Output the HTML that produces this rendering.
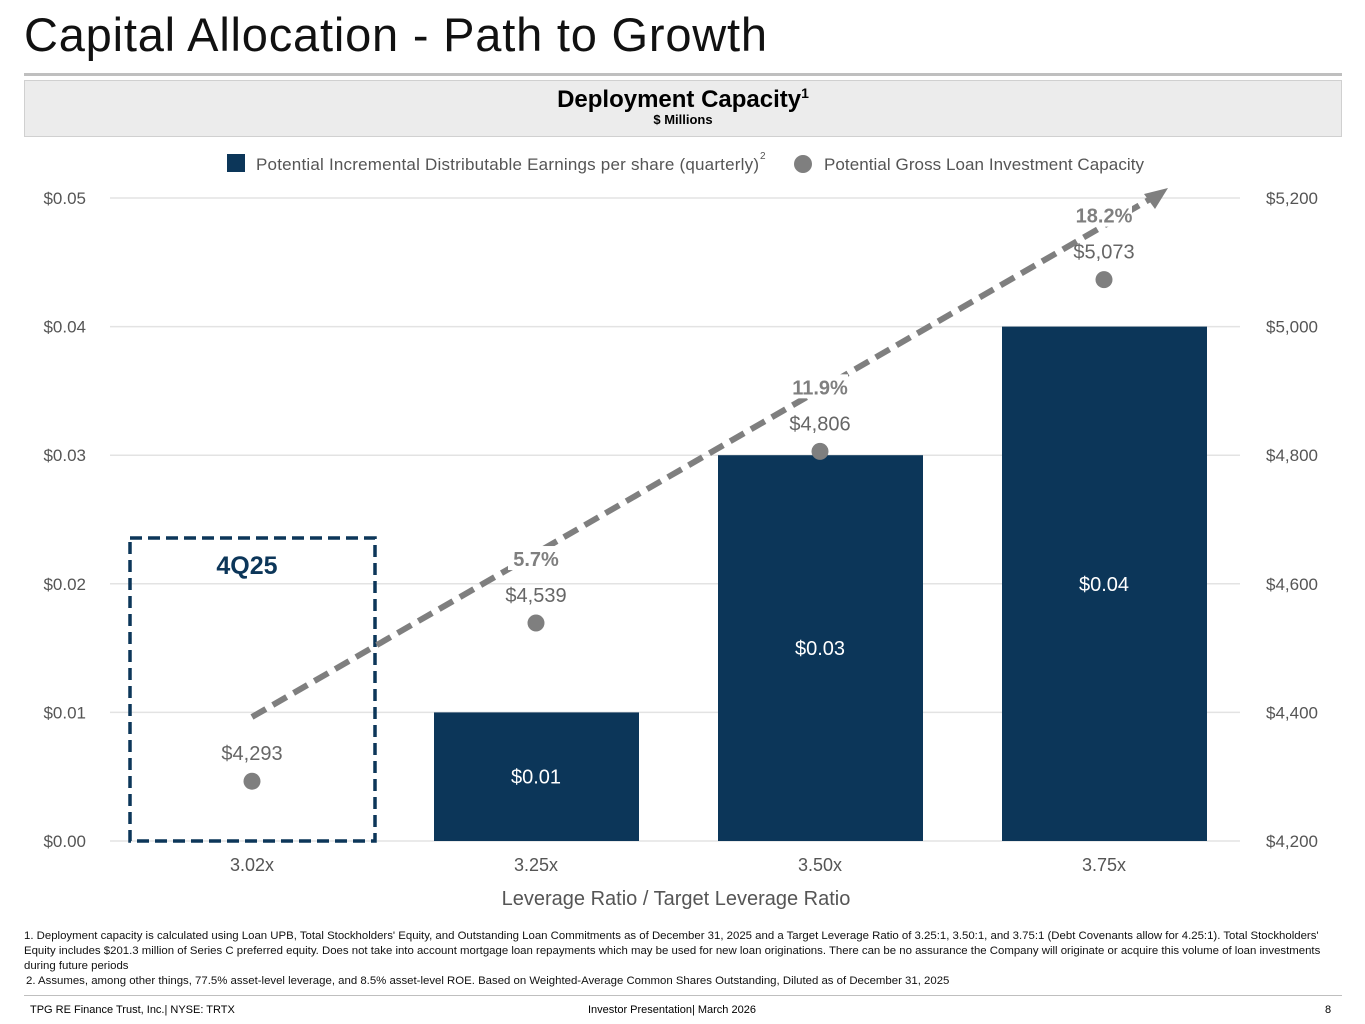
<!DOCTYPE html>
<html><head><meta charset="utf-8"><style>
body{margin:0;width:1365px;height:1024px;background:#fff;font-family:"Liberation Sans",sans-serif;position:relative;overflow:hidden}
.a{position:absolute}
</style></head><body>
<div class="a" style="left:24px;top:7px;font-size:47px;letter-spacing:0.8px;color:#111">Capital Allocation - Path to Growth</div>
<div class="a" style="left:24px;top:73px;width:1318px;height:3px;background:#bfbfbf"></div>
<div class="a" style="left:24px;top:80px;width:1316px;height:55px;background:#ececec;border:1px solid #d0d0d0;text-align:center">
<div style="font-weight:bold;font-size:24px;margin-top:4px">Deployment Capacity<sup style="font-size:14px">1</sup></div>
<div style="font-weight:bold;font-size:13px;margin-top:-2px">$ Millions</div></div>
<svg class="a" style="left:0;top:0" width="1365" height="1024" id="chart" font-family="Liberation Sans, sans-serif"></svg>
<div class="a" style="left:24px;top:929px;width:1305px;font-size:11.4px;line-height:15px;color:#111">1. Deployment capacity is calculated using Loan UPB, Total Stockholders' Equity, and Outstanding Loan Commitments as of December 31, 2025 and a Target Leverage Ratio of 3.25:1, 3.50:1, and 3.75:1 (Debt Covenants allow for 4.25:1). Total Stockholders' Equity includes $201.3 million of Series C preferred equity. Does not take into account mortgage loan repayments which may be used for new loan originations. There can be no assurance the Company will originate or acquire this volume of loan investments during future periods</div>
<div class="a" style="left:26px;top:975px;font-size:11.4px;color:#111">2. Assumes, among other things, 77.5% asset-level leverage, and 8.5% asset-level ROE. Based on Weighted-Average Common Shares Outstanding, Diluted as of December 31, 2025</div>
<div class="a" style="left:24px;top:995px;width:1318px;height:1px;background:#bfbfbf"></div>
<div class="a" style="left:30px;top:1004px;font-size:11px">TPG RE Finance Trust, Inc.| NYSE: TRTX</div>
<div class="a" style="left:588px;top:1004px;font-size:11px">Investor Presentation| March 2026</div>
<div class="a" style="left:1325px;top:1004px;font-size:11px">8</div>
<script>
const categories=["3.02x","3.25x","3.50x","3.75x"];
const epsValues=[0,0.01,0.03,0.04];
const capacityValues=[4293,4539,4806,5073];
const pctLabels=["","5.7%","11.9%","18.2%"];
const leftTicks=[0,0.01,0.02,0.03,0.04,0.05];
const rightTicks=[4200,4400,4600,4800,5000,5200];
const svg=document.getElementById('chart');const NS='http://www.w3.org/2000/svg';
const X0=110,X1=1240,Y0=841,Y1=198;
const xc=i=>252+i*284;
const yL=v=>Y0-(v/0.05)*(Y0-Y1);
const yR=v=>Y0-((v-4200)/1000)*(Y0-Y1);
function mk(t,a,txt){const e=document.createElementNS(NS,t);for(const k in a)e.setAttribute(k,a[k]);if(txt!=null)e.textContent=txt;svg.appendChild(e);return e;}
leftTicks.forEach((v,i)=>{
let g=mk('line',{x1:X0,x2:X1,y1:yL(v),y2:yL(v),stroke:'#e3e3e3','stroke-width':1.5});

let t=mk('text',{x:86,y:yL(v)+6,'text-anchor':'end','font-size':17,fill:'#555'},'$'+v.toFixed(2));

let r=mk('text',{x:1266,y:yR(rightTicks[i])+6,'font-size':17,fill:'#555'},'$'+rightTicks[i].toLocaleString('en-US'));

});
categories.forEach((c,i)=>{
let t=mk('text',{x:xc(i),y:871,'text-anchor':'middle','font-size':18,fill:'#555'},c);

if(epsValues[i]>0){
let b=mk('rect',{x:xc(i)-102,y:yL(epsValues[i]),width:205,height:Y0-yL(epsValues[i]),fill:'#0c3659'});

let l=mk('text',{x:xc(i),y:(yL(epsValues[i])+Y0)/2+7,'text-anchor':'middle','font-size':20,fill:'#fff'},'$'+epsValues[i].toFixed(2));
}
});
let ax=mk('text',{x:676,y:905,'text-anchor':'middle','font-size':20,fill:'#555'},'Leverage Ratio / Target Leverage Ratio');

let bx=mk('rect',{x:130,y:538,width:245,height:303,fill:'none',stroke:'#0c3659','stroke-width':3.5,'stroke-dasharray':'12 6'});

let q=mk('text',{x:247,y:574,'text-anchor':'middle','font-size':25,'font-weight':'bold',fill:'#0c3659'},'4Q25');

let ar=mk('line',{x1:252,y1:717,x2:1152,y2:198,stroke:'#7f7f7f','stroke-width':6,'stroke-dasharray':'16 8'});

let ah=mk('polygon',{points:'1168,188 1144,194 1155,209',fill:'#7f7f7f'});

capacityValues.forEach((v,i)=>{
let p=mk('circle',{cx:xc(i),cy:yR(v),r:8.5,fill:'#7f7f7f'});

let l=mk('text',{x:xc(i),y:yR(v)-21,'text-anchor':'middle','font-size':20,fill:'#666'},'$'+v.toLocaleString('en-US'));

if(pctLabels[i]){
let bg=mk('rect',{x:xc(i)-28,y:yR(v)-77,width:56,height:24,fill:'#fff'});

let pt=mk('text',{x:xc(i),y:yR(v)-57,'text-anchor':'middle','font-size':20,'font-weight':'bold',fill:'#7f7f7f'},pctLabels[i]);
}
});
let s1=mk('rect',{x:227,y:154,width:18,height:18,fill:'#0c3659'});

let t1=mk('text',{x:256,y:170,'font-size':17,fill:'#555',textLength:503},'Potential Incremental Distributable Earnings per share (quarterly)');

let sp=mk('text',{x:760,y:159,'font-size':10,fill:'#555'},'2');

let s2=mk('circle',{cx:803,cy:164,r:9,fill:'#7f7f7f'});

let t2=mk('text',{x:824,y:170,'font-size':17,fill:'#555',textLength:320},'Potential Gross Loan Investment Capacity');

</script>
</body></html>
